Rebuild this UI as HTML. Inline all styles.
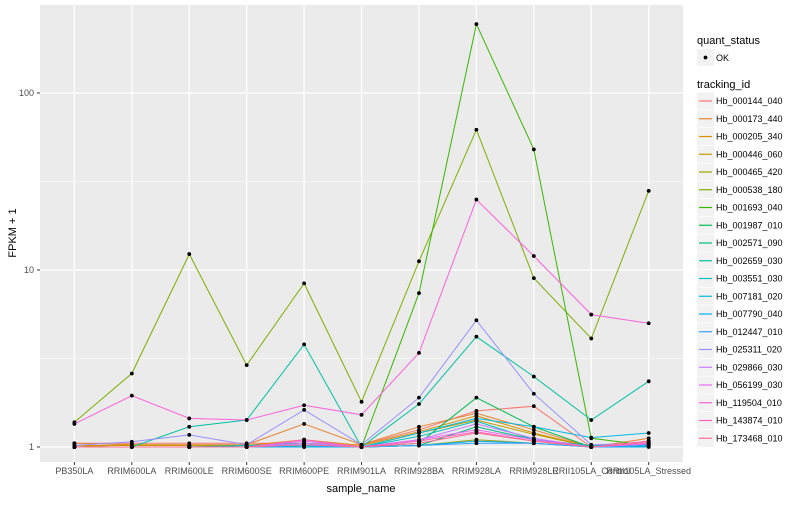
<!DOCTYPE html>
<html><head><meta charset="utf-8"><style>
body{margin:0;background:#fff;font-family:"Liberation Sans",sans-serif}
svg text{font-family:"Liberation Sans",sans-serif}
</style></head><body>
<svg id="chart" width="800" height="500" xmlns="http://www.w3.org/2000/svg">
<rect x="40" y="5" width="643" height="457" fill="#ebebeb"/>
<g id="grid"></g><g id="lines"></g><g id="pts"></g><g id="axes"></g><g id="legend"></g>
</svg>
<script>
const categories=["PB350LA","RRIM600LA","RRIM600LE","RRIM600SE","RRIM600PE","RRIM901LA","RRIM928BA","RRIM928LA","RRIM928LE","RRII105LA_Control","RRII105LA_Stressed"];
const seriesNames=["Hb_000144_040","Hb_000173_440","Hb_000205_340","Hb_000446_060","Hb_000465_420","Hb_000538_180","Hb_001693_040","Hb_001987_010","Hb_002571_090","Hb_002659_030","Hb_003551_030","Hb_007181_020","Hb_007790_040","Hb_012447_010","Hb_025311_020","Hb_029866_030","Hb_056199_030","Hb_119504_010","Hb_143874_010","Hb_173468_010"];
const seriesColors=["#F8766D","#EA8331","#D89000","#C09B00","#A3A500","#7CAE00","#39B600","#00BB4E","#00BF7D","#00C1A3","#00BFC4","#00BAE0","#00B0F6","#35A2FF","#9590FF","#C77CFF","#E76BF3","#FA62DB","#FF62BC","#FF6C91"];
const s00=[1.05,1.05,1.05,1.05,1.05,1.03,1.25,1.6,1.7,1.0,1.05];
const s01=[1.05,1.03,1.03,1.03,1.35,1.03,1.3,1.55,1.25,1.0,1.12];
const s02=[1.02,1.02,1.02,1.02,1.1,1.02,1.22,1.5,1.2,1.0,1.08];
const s03=[1.0,1.03,1.02,1.02,1.05,1.0,1.2,1.42,1.18,1.0,1.05];
const s04=[1.0,1.0,1.0,1.0,1.02,1.0,1.02,1.1,1.05,1.0,1.02];
const s05=[1.38,2.6,12.3,2.9,8.4,1.8,11.2,62,9,4.1,28];
const s06=[1.0,1.0,1.0,1.0,1.0,1.0,7.4,245,48,1.12,1.02];
const s07=[1.0,1.0,1.0,1.0,1.02,1.0,1.05,1.9,1.3,1.0,1.02];
const s08=[1.0,1.0,1.0,1.02,1.02,1.0,1.02,1.3,1.1,1.0,1.01];
const s09=[1.0,1.0,1.3,1.42,3.8,1.0,1.75,4.2,2.5,1.42,2.35];
const s10=[1.0,1.0,1.0,1.02,1.05,1.0,1.15,1.4,1.1,1.02,1.03];
const s11=[1.0,1.0,1.0,1.0,1.05,1.0,1.2,1.45,1.3,1.13,1.2];
const s12=[1.0,1.0,1.0,1.0,1.0,1.0,1.02,1.08,1.05,1.0,1.0];
const s13=[1.0,1.0,1.0,1.0,1.02,1.0,1.02,1.05,1.05,1.0,1.02];
const s14=[1.02,1.07,1.17,1.03,1.62,1.03,1.9,5.2,2.0,1.03,1.05];
const s15=[1.0,1.0,1.0,1.0,1.05,1.0,1.1,1.35,1.12,1.0,1.05];
const s16=[1.0,1.0,1.0,1.0,1.08,1.0,1.1,1.25,1.1,1.0,1.04];
const s17=[1.35,1.95,1.45,1.42,1.72,1.52,3.4,25,12,5.6,5.0];
const s18=[1.0,1.0,1.0,1.0,1.1,1.0,1.08,1.22,1.08,1.0,1.08];
const s19=[1.0,1.0,1.0,1.0,1.03,1.0,1.05,1.2,1.08,1.0,1.06];
const seriesValues=[s00,s01,s02,s03,s04,s05,s06,s07,s08,s09,s10,s11,s12,s13,s14,s15,s16,s17,s18,s19];
const yTicks=[1,10,100];
const yTickLabels=["1","10","100"];

const NS="http://www.w3.org/2000/svg";
function mk(t,a,p){const e=document.createElementNS(NS,t);for(const k in a)e.setAttribute(k,a[k]);p.appendChild(e);return e;}
const X0=74.4,DX=57.43;
function xs(i){return X0+i*DX;}
function ys(v){return 447-177*Math.log10(v);}
const grid=document.getElementById('grid'),lines=document.getElementById('lines'),pts=document.getElementById('pts'),axes=document.getElementById('axes'),leg=document.getElementById('legend');
// minor grid
[0.5,1.5,2.5].forEach(l=>{const y=447-177*l;if(y>5&&y<462){const g=mk('line',{x1:40,x2:683,y1:y,y2:y,stroke:'#fff','stroke-width':0.6},grid);

}});
yTicks.forEach((t,i)=>{const y=ys(t);
const g=mk('line',{x1:40,x2:683,y1:y,y2:y,stroke:'#fff','stroke-width':1.2},grid);


const tk=mk('line',{x1:37,x2:40,y1:y,y2:y,stroke:'#333','stroke-width':1},axes);


const tx=mk('text',{x:34,y:y+3,'text-anchor':'end','font-size':9,fill:'#4d4d4d'},axes);tx.textContent=yTickLabels[i];

});
categories.forEach((c,i)=>{const x=xs(i);
const g=mk('line',{x1:x,x2:x,y1:5,y2:462,stroke:'#fff','stroke-width':1.2},grid);


const tk=mk('line',{x1:x,x2:x,y1:462,y2:465,stroke:'#333','stroke-width':1},axes);


const tx=mk('text',{x:x,y:474,'text-anchor':'middle','font-size':9,fill:'#4d4d4d'},axes);tx.textContent=c;

});
const xt=mk('text',{x:361,y:492,'text-anchor':'middle','font-size':11,fill:'#000'},axes);xt.textContent='sample_name';


const yt=mk('text',{x:0,y:0,'text-anchor':'middle','font-size':11,fill:'#000',transform:'translate(16,233) rotate(-90)'},axes);yt.textContent='FPKM + 1';


seriesValues.forEach((vals,si)=>{
const d=vals.map((v,i)=>(i?'L':'M')+xs(i).toFixed(1)+','+ys(v).toFixed(1)).join('');
const p=mk('path',{d:d,fill:'none',stroke:seriesColors[si],'stroke-width':1},lines);


vals.forEach((v,i)=>{const c=mk('circle',{cx:xs(i),cy:ys(v),r:1.9,fill:'#000'},pts);

});});
// legend
const t1=mk('text',{x:697,y:44,'font-size':11,fill:'#000'},leg);t1.textContent='quant_status';


const kb=mk('rect',{x:697,y:49,width:17,height:17,fill:'#f2f2f2'},leg);


mk('circle',{cx:705.5,cy:57.5,r:1.9,fill:'#000'},leg);
const ok=mk('text',{x:716,y:61,'font-size':9,fill:'#000'},leg);ok.textContent='OK';


const t2=mk('text',{x:697,y:88,'font-size':11,fill:'#000'},leg);t2.textContent='tracking_id';


seriesNames.forEach((n,i)=>{const cy=101+i*17.75;
const g=mk('g',{},leg);


mk('rect',{x:697,y:cy-8.5,width:17,height:17,fill:'#f2f2f2'},g);
mk('line',{x1:699,x2:712,y1:cy,y2:cy,stroke:seriesColors[i],'stroke-width':1.2},g);
const tx=mk('text',{x:716,y:cy+3,'font-size':9,fill:'#000'},g);tx.textContent=n;});
</script>
</body></html>
